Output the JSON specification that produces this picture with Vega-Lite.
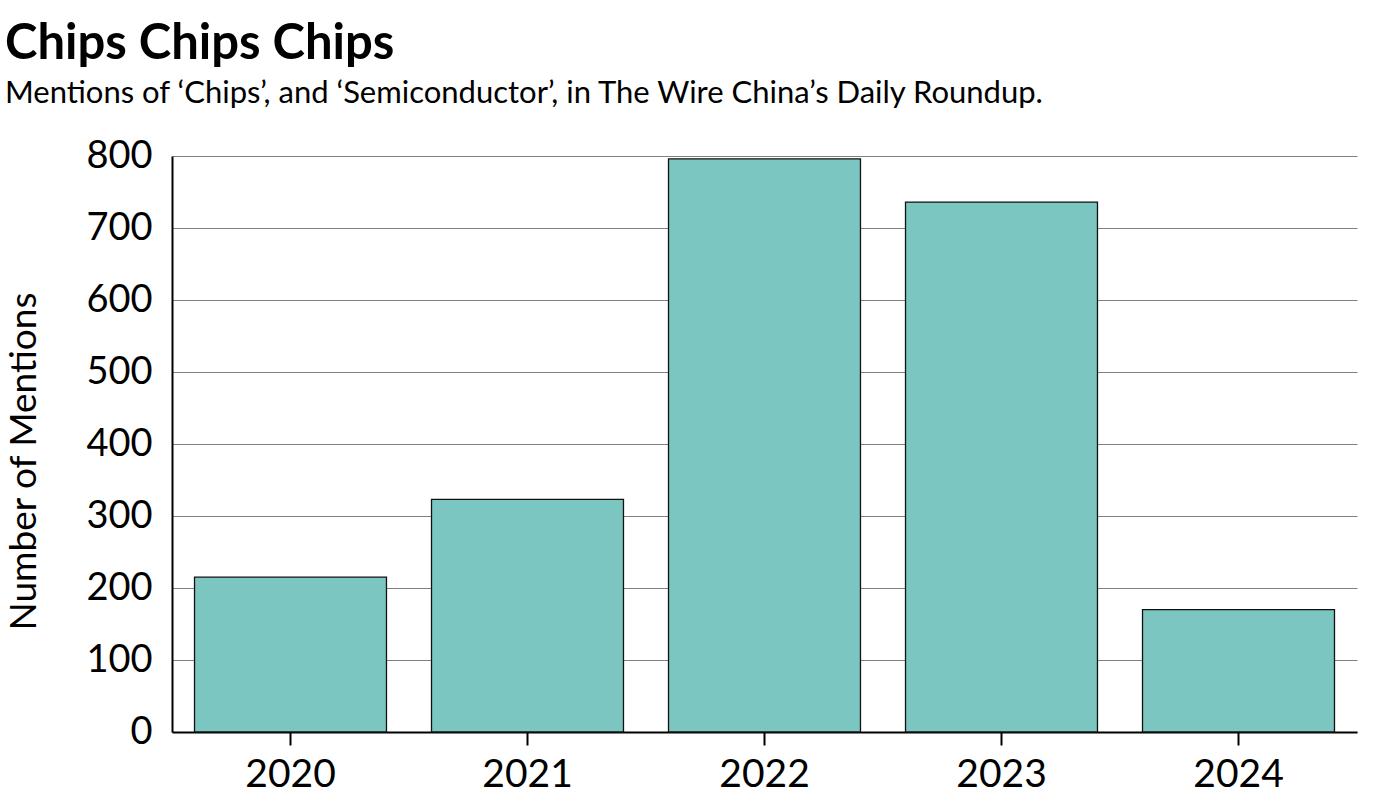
{
  "$schema": "https://vega.github.io/schema/vega-lite/v6.json",
  "width": 1185,
  "height": 576,
  "autosize": {"type": "none"},
  "padding": {"left": 172, "top": 156, "right": 28, "bottom": 69},
  "background": "white",
  "title": {
    "text": "Chips Chips Chips",
    "subtitle": "Mentions of ‘Chips’, and ‘Semiconductor’, in The Wire China’s Daily Roundup.",
    "anchor": "start",
    "frame": "group",
    "dx": -167,
    "offset": 28,
    "font": "Lato",
    "fontSize": 49,
    "fontWeight": "bold",
    "color": "#000000",
    "subtitleFont": "Lato",
    "subtitleFontSize": 31,
    "subtitleColor": "#000000",
    "subtitlePadding": 10
  },
  "data": {
    "values": [
      {"year": "2020", "mentions": 215},
      {"year": "2021", "mentions": 323},
      {"year": "2022", "mentions": 796},
      {"year": "2023", "mentions": 736},
      {"year": "2024", "mentions": 170}
    ]
  },
  "mark": {"type": "bar", "fill": "#7bc6c0", "stroke": "#111111", "strokeWidth": 1.3},
  "encoding": {
    "x": {
      "field": "year",
      "type": "ordinal",
      "scale": {"paddingInner": 0.19, "paddingOuter": 0.095},
      "axis": {
        "title": null,
        "labelAngle": 0,
        "labelFont": "Lato",
        "labelFontSize": 39,
        "labelColor": "#000000",
        "labelPadding": 10,
        "domainColor": "#000000",
        "domainWidth": 2,
        "tickColor": "#000000",
        "tickWidth": 2,
        "tickSize": 13,
        "grid": false
      }
    },
    "y": {
      "field": "mentions",
      "type": "quantitative",
      "scale": {"domain": [0, 800], "nice": false},
      "axis": {
        "title": "Number of Mentions",
        "titleFont": "Lato",
        "titleFontSize": 37,
        "titleFontWeight": "normal",
        "titleColor": "#000000",
        "titlePadding": 42,
        "titleY": 305,
        "values": [0, 100, 200, 300, 400, 500, 600, 700, 800],
        "labelFont": "Lato",
        "labelFontSize": 38,
        "labelColor": "#000000",
        "labelPadding": 20,
        "ticks": false,
        "domainColor": "#000000",
        "domainWidth": 2,
        "grid": true,
        "gridColor": "#808080",
        "gridWidth": 1,
        "gridOpacity": 1
      }
    }
  },
  "config": {"view": {"stroke": null}}
}
